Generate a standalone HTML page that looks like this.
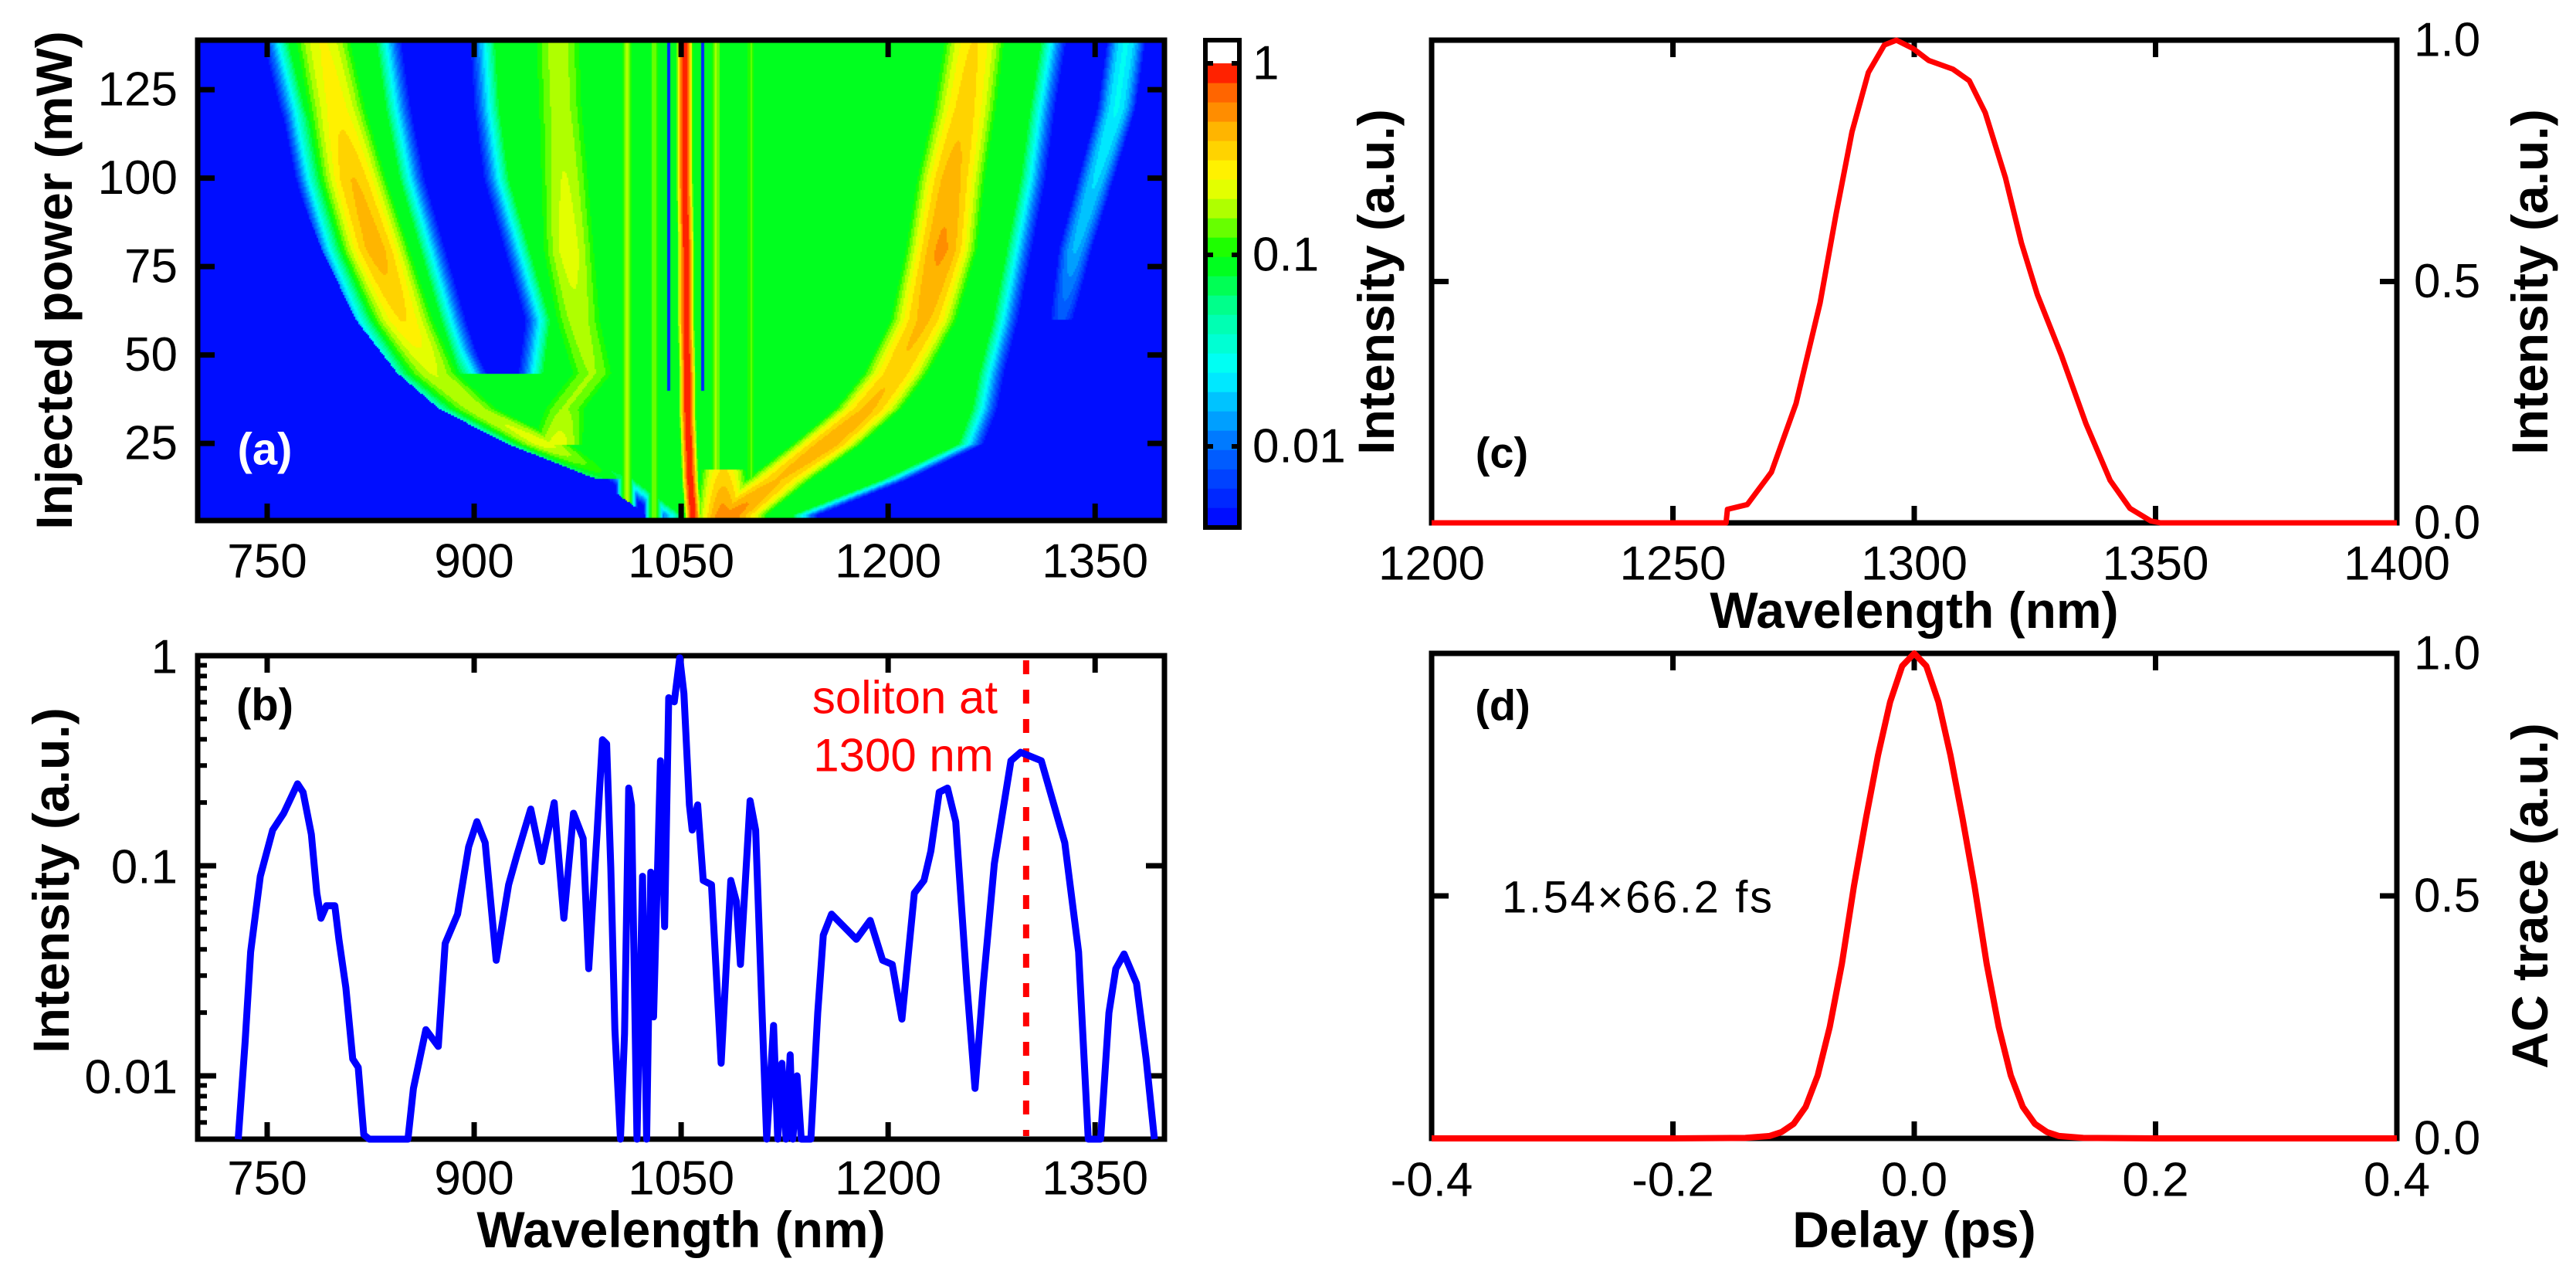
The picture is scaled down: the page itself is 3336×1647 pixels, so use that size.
<!DOCTYPE html>
<html><head><meta charset="utf-8"><style>
html,body{margin:0;padding:0;background:#fff;}
#wrap{position:relative;width:3336px;height:1647px;overflow:hidden;background:#fff;}
#heat{position:absolute;left:256px;top:52px;}
svg{position:absolute;left:0;top:0;}
text{font-family:"Liberation Sans",Arial,sans-serif;}
</style></head><body>
<div id="wrap">
<canvas id="heat" width="1252" height="622"></canvas>
<svg id="fig" width="3336" height="1647" xmlns="http://www.w3.org/2000/svg"></svg>
</div>
<script>
// ===== Panel (a) heatmap feature data (power knots, mW) =====
const aPowers = [139,120,100,80,60,45,35,25,15,5];
const aLeftEdge = [745,757,775,795,820,850,880,930,995,1030];
const aRightEdge = [1330,1322,1315,1305,1295,1285,1280,1270,1215,1150];
const aHoleLeft = [848,855,865,880,895,908,null,null,null,null];
const aHoleRight = [895,898,905,920,935,930,null,null,null,null];
const ridgeLeftDW = [790,800,812,828,848,870,900,950,1000,null];
const ridgeLeftDWPeak = [-0.6,-0.55,-0.4,-0.35,-0.5,-0.7,-0.75,-0.65,-1.1,null];
const ridgeMid = [960,962,965,968,975,985,965,960,null,null];
const ridgeMidPeak = [-0.75,-0.75,-0.7,-0.65,-0.75,-0.8,-0.8,-0.65,null,null];
const ridgePump = [1052,1052,1052,1053,1053,1054,1054,1055,1056,1058];
const ridgeRightDW = [1262,1255,1245,1238,1225,1205,1185,1155,1120,1085];
const ridgeRightDWPeak = [-0.5,-0.45,-0.35,-0.28,-0.38,-0.42,-0.38,-0.32,-0.4,-0.25];
const ridgeFarRight = [1372,1365,1350,1335,1325,null,null,null,null,null];
const ridgeFarRightPeak = [-1.6,-1.6,-1.7,-1.8,-2.1,null,null,null,null,null];
const stripeCenters = [1010,1030,1075,1100];
const stripePeaks = [-0.75,-0.85,-0.8,-0.9];
const dipCenters = [1040,1065];
// colorbar
const cbLevels = 24;
const cbStops = [[-2.42,[0,0,255]],[-2.0,[0,110,255]],[-1.6,[0,255,255]],[-1.3,[0,255,160]],[-1.0,[0,255,0]],[-0.75,[180,255,0]],[-0.6,[255,255,0]],[-0.35,[255,180,0]],[-0.15,[255,100,0]],[0,[255,0,0]]];
const cbTickVals = [1,0.1,0.01];
const cbTickLabels = ["1","0.1","0.01"];

// ===== Panel (b) spectrum (nm, log10 intensity) =====
const bLambda = [729,734,738,745,754,762,772,776,782,786,789,793,799,802,807,812,816,820,824,852,856,865,874,879,888,896,902,908,916,925,931,941,949,958,965,972,979,983,989,993,996,999,1002,1006,1009,1012,1014,1018,1022,1025,1028,1030,1035,1038,1041,1045,1049,1052,1056,1058,1062,1066,1072,1079,1086,1090,1093,1100,1104,1109,1112,1117,1120,1123,1126,1129,1131,1134,1137,1140,1144,1149,1153,1159,1177,1187,1196,1203,1210,1219,1226,1231,1237,1243,1249,1257,1263,1269,1277,1289,1296,1311,1328,1338,1345,1354,1360,1365,1371,1380,1387,1393];
const bLogI = [-2.35,-1.84,-1.41,-1.05,-0.83,-0.75,-0.61,-0.65,-0.85,-1.13,-1.25,-1.19,-1.19,-1.35,-1.58,-1.92,-1.96,-2.28,-2.35,-2.35,-2.06,-1.78,-1.86,-1.37,-1.23,-0.91,-0.79,-0.89,-1.45,-1.09,-0.95,-0.73,-0.98,-0.70,-1.25,-0.75,-0.87,-1.49,-0.85,-0.40,-0.42,-1.01,-1.78,-2.35,-1.80,-0.63,-0.71,-2.35,-1.05,-2.35,-1.03,-1.72,-0.50,-1.29,-0.20,-0.22,-0.01,-0.18,-0.71,-0.83,-0.71,-1.07,-1.09,-1.94,-1.07,-1.17,-1.47,-0.69,-0.83,-1.76,-2.35,-1.76,-2.35,-1.94,-2.35,-1.90,-2.35,-2.0,-2.35,-2.35,-2.35,-1.70,-1.33,-1.23,-1.35,-1.26,-1.45,-1.47,-1.73,-1.13,-1.07,-0.93,-0.65,-0.63,-0.79,-1.56,-2.06,-1.56,-0.99,-0.50,-0.46,-0.50,-0.89,-1.41,-2.35,-2.35,-1.70,-1.49,-1.42,-1.56,-1.92,-2.35];
const bYTickVals = [1,0.1,0.01];
const bYTickLabels = ["1","0.1","0.01"];
const xTicksNm = [750,900,1050,1200,1350];
const xTickLabelsNm = ["750","900","1050","1200","1350"];

// ===== Panel (c) soliton spectrum =====
const cLambda = [1200,1261,1261.3,1265.4,1270.4,1275.5,1280.5,1283.8,1287.1,1290.5,1293.8,1296.3,1299.7,1303,1308,1311.4,1314.7,1318.9,1322.2,1325.5,1330.5,1335.6,1340.6,1344.7,1349,1351,1400];
const cInt = [0,0,0.028,0.038,0.105,0.247,0.456,0.64,0.81,0.933,0.99,1.0,0.983,0.958,0.94,0.916,0.85,0.715,0.58,0.473,0.347,0.205,0.088,0.03,0.004,0,0];
const cXTicks = [1200,1250,1300,1350,1400];
const cXTickLabels = ["1200","1250","1300","1350","1400"];
const yLinTicks = [0,0.5,1.0];
const yLinTickLabels = ["0.0","0.5","1.0"];

// ===== Panel (d) autocorrelation =====
const dDelay = [-0.4,-0.2,-0.14,-0.12,-0.11,-0.1,-0.09,-0.08,-0.07,-0.06,-0.05,-0.04,-0.03,-0.02,-0.01,0,0.01,0.02,0.03,0.04,0.05,0.06,0.07,0.08,0.09,0.1,0.11,0.12,0.14,0.2,0.4];
const dAC = [0,0,0.001,0.005,0.013,0.03,0.065,0.13,0.23,0.36,0.52,0.66,0.79,0.9,0.974,1,0.974,0.9,0.79,0.66,0.52,0.36,0.23,0.13,0.065,0.03,0.013,0.005,0.001,0,0];
const dXTicks = [-0.4,-0.2,0,0.2,0.4];
const dXTickLabels = ["-0.4","-0.2","0.0","0.2","0.4"];

// ===== axis functions =====
const A = {l:256,r:1508,t:52,b:674};
const xA = l => 346 + (l-750)*1.787;
const yA = p => 674 - (p-3.2)*4.58;
const B = {l:256,r:1508,t:849,b:1475};
const yB = lg => Math.min(1475, 849 + (-lg)*272);
const C = {l:1854,r:3104,t:52,b:677};
const xC = l => 1854 + (l-1200)*6.25;
const yC = v => 677 - v*625;
const D = {l:1854,r:3104,t:846,b:1474};
const xD = t => 1854 + (t+0.4)*1562.5;
const yD = v => 1474 - v*628;
const CB = {l:1561,r:1605,t:52,b:683};
const yCB = lg => 82 + (-lg)*248;

// ===== heatmap =====
function interp(arr,P){
  for(let i=0;i<aPowers.length-1;i++){
    const p0=aPowers[i],p1=aPowers[i+1];
    if(P<=p0 && P>=p1){
      const a=arr[i],b=arr[i+1];
      if(a===null||b===null) return null;
      const f=(p0-P)/(p0-p1);
      return a+(b-a)*f;
    }
  }
  return P>aPowers[0]?arr[0]:arr[arr.length-1];
}
function colorFor(lg){
  const lo=-2.42;
  let t=Math.max(0,Math.min(0.9999,(lg-lo)/(-lo)));
  t=Math.floor(t*cbLevels)/cbLevels+0.5/cbLevels;
  const v=lo+t*(-lo);
  for(let i=0;i<cbStops.length-1;i++){
    const [a,ca]=cbStops[i],[b,cb]=cbStops[i+1];
    if(v>=a&&v<=b){const f=(v-a)/(b-a);return ca.map((c,k)=>Math.round(c+(cb[k]-c)*f));}
  }
  return cbStops[cbStops.length-1][1];
}
function ridge(c,pk,w,l){ if(c===null||pk===null) return -9; const d=(l-c)/w; return pk-d*d; }
function heatVal(l,P){
  let lg=-2.42;
  const L=interp(aLeftEdge,P),R=interp(aRightEdge,P);
  let inside=Math.min(l-L,R-l);
  const hl=interp(aHoleLeft,P),hr=interp(aHoleRight,P);
  if(hl!==null&&hr!==null){ inside=Math.min(inside,Math.max(hl-l,l-hr)); }
  if(inside>0){ lg=Math.max(lg,-1.05-Math.max(0,(20-inside)/20)*1.4); }
  if(inside>-6){
    lg=Math.max(lg,ridge(interp(ridgeLeftDW,P),interp(ridgeLeftDWPeak,P),30,l));
    lg=Math.max(lg,ridge(interp(ridgeMid,P),interp(ridgeMidPeak,P),30,l));
    lg=Math.max(lg,ridge(interp(ridgeRightDW,P),interp(ridgeRightDWPeak,P),30,l));
    for(let i=0;i<stripeCenters.length;i++) lg=Math.max(lg,ridge(stripeCenters[i],stripePeaks[i],6,l));
    for(let i=0;i<dipCenters.length;i++){ if(P>40&&Math.abs(l-dipCenters[i])<1.2) lg=Math.min(lg,-2.3); }
  }
  lg=Math.max(lg,ridge(interp(ridgePump,P),0,6,l));
  if(P<18) lg=Math.max(lg,ridge(1080,-0.2-(P-3)*0.02,22,l));
  lg=Math.max(lg,ridge(interp(ridgeFarRight,P),interp(ridgeFarRightPeak,P),16,l));
  return lg;
}
(function(){
  const cv=document.getElementById('heat');const ctx=cv.getContext('2d');
  const W=cv.width,H=cv.height,step=2;
  for(let py=0;py<H;py+=step){
    const P=3.2+(H-py)/4.58;
    for(let px=0;px<W;px+=step){
      const l=750+(px+256-346)/1.787;
      const c=colorFor(heatVal(l,P));
      ctx.fillStyle='rgb('+c[0]+','+c[1]+','+c[2]+')';
      ctx.fillRect(px,py,step,step);
    }
  }
})();

// ===== SVG helpers =====
const NS='http://www.w3.org/2000/svg';
const svg=document.getElementById('fig');
function mk(tag,attrs,parent){const e=document.createElementNS(NS,tag);for(const k in attrs)e.setAttribute(k,attrs[k]);(parent||svg).appendChild(e);return e;}
function txt(s,x,y,size,opts){opts=opts||{};const e=mk('text',{x:x,y:y,'font-size':size,'text-anchor':opts.anchor||'middle','dominant-baseline':'central',fill:opts.fill||'#000','font-weight':opts.bold?'bold':'normal'});if(opts.rot)e.setAttribute('transform','rotate(-90 '+x+' '+y+')');e.textContent=s;return e;}
function frame(F){const e=mk('rect',{x:F.l,y:F.t,width:F.r-F.l,height:F.b-F.t,fill:'none',stroke:'#000','stroke-width':7});return e;}
function tick(x1,y1,x2,y2,w){return mk('line',{x1:x1,y1:y1,x2:x2,y2:y2,stroke:'#000','stroke-width':w||7});}
function pathFrom(xs,ys,fx,fy){let d='';for(let i=0;i<xs.length;i++)d+=(i?'L':'M')+fx(xs[i]).toFixed(1)+','+fy(ys[i]).toFixed(1);return d;}

// ----- Panel a -----
let f=frame(A);


xTicksNm.forEach((v,i)=>{
  let t=tick(xA(v),A.b,xA(v),A.b-22);
  t=tick(xA(v),A.t,xA(v),A.t+22);
  const e=txt(xTickLabelsNm[i],xA(v),727,62);
});
const aYTicks=[25,50,75,100,125];
aYTicks.forEach(v=>{
  let t=tick(A.l,yA(v),A.l+22,yA(v));
  t=tick(A.r,yA(v),A.r-22,yA(v));
  const e=txt(String(v),230,yA(v),62,{anchor:'end'});
});
let e=txt('Injected power (mW)',70,363,66,{bold:true,rot:true});

e=txt('(a)',343,582,58,{bold:true,fill:'#fff'});


// colorbar
for(let i=0;i<cbLevels;i++){
  const lo=-2.42,hi=0;
  const a=lo+(hi-lo)*i/cbLevels,b=lo+(hi-lo)*(i+1)/cbLevels;
  const c=colorFor((a+b)/2);
  const r=mk('rect',{x:CB.l,y:yCB(b),width:CB.r-CB.l,height:yCB(a)-yCB(b)+0.6,fill:'rgb('+c+')'});
  
}
f=frame(CB);f.setAttribute('stroke-width',6);


cbTickVals.forEach((v,i)=>{
  const y=yCB(Math.log10(v));
  let t=tick(CB.l,y,CB.l+10,y,6);
  t=tick(CB.r,y,CB.r-10,y,6);
  const e=txt(cbTickLabels[i],1622,y,62,{anchor:'start'});
});

// ----- Panel b -----
f=frame(B);


xTicksNm.forEach((v,i)=>{
  let t=tick(xA(v),B.b,xA(v),B.b-22);
  t=tick(xA(v),B.t,xA(v),B.t+22);
  const e=txt(xTickLabelsNm[i],xA(v),1526,62);
});
bYTickVals.forEach((v,i)=>{
  const y=yB(Math.log10(v));
  let t=tick(B.l,y,B.l+24,y);
  t=tick(B.r,y,B.r-24,y);
  const e=txt(bYTickLabels[i],230,y+2,62,{anchor:'end'});
});
[0.01,0.1].forEach(dec=>{for(let m=2;m<=9;m++){const v=dec*m;const y=yB(Math.log10(v));
  const t=tick(B.l,y,B.l+12,y,6);}});
[6,7,8,9].forEach(m=>{const y=yB(Math.log10(0.001*m));if(y<B.b){const t=tick(B.l,y,B.l+12,y,6);}});
e=mk('line',{x1:xA(1300),y1:B.t+6,x2:xA(1300),y2:B.b-4,stroke:'#ff0000','stroke-width':8,'stroke-dasharray':'18,20'});

e=mk('path',{d:pathFrom(bLambda,bLogI,xA,yB),fill:'none',stroke:'#0000ff','stroke-width':9,'stroke-linejoin':'round'});

e=txt('soliton at',1172,903,60,{fill:'#ff0000'});

e=txt('1300 nm',1170,978,60,{fill:'#ff0000'});

e=txt('(b)',343,913,58,{bold:true});

e=txt('Intensity (a.u.)',66,1140,66,{bold:true,rot:true});

e=txt('Wavelength (nm)',882,1592,66,{bold:true});


// ----- Panel c -----
f=frame(C);


cXTicks.forEach((v,i)=>{
  if(i>0&&i<cXTicks.length-1){
    let t=tick(xC(v),C.b,xC(v),C.b-22);
    t=tick(xC(v),C.t,xC(v),C.t+22);
  }
  const e=txt(cXTickLabels[i],xC(v),730,62);
});
yLinTicks.forEach((v,i)=>{
  if(v===0.5){
    let t=tick(C.l,yC(v),C.l+22,yC(v));
    t=tick(C.r,yC(v),C.r-22,yC(v));
  }
  const e=txt(yLinTickLabels[i],3126,yC(v),62,{anchor:'start'});
});
e=mk('path',{d:pathFrom(cLambda,cInt,xC,yC),fill:'none',stroke:'#ff0000','stroke-width':7,'stroke-linejoin':'round'});

e=txt('(c)',1945,586,56,{bold:true});

e=txt('Intensity (a.u.)',1782,365,66,{bold:true,rot:true});

e=txt('Intensity (a.u.)',3276,365,66,{bold:true,rot:true});

e=txt('Wavelength (nm)',2479,790,66,{bold:true});


// ----- Panel d -----
f=frame(D);


dXTicks.forEach((v,i)=>{
  if(i>0&&i<dXTicks.length-1){
    let t=tick(xD(v),D.b,xD(v),D.b-22);
    t=tick(xD(v),D.t,xD(v),D.t+22);
  }
  const e=txt(dXTickLabels[i],xD(v),1528,62);
});
yLinTicks.forEach((v,i)=>{
  if(v===0.5){
    let t=tick(D.l,yD(v),D.l+22,yD(v));
    t=tick(D.r,yD(v),D.r-22,yD(v));
  }
  const e=txt(yLinTickLabels[i],3126,yD(v),62,{anchor:'start'});
});
e=mk('path',{d:pathFrom(dDelay,dAC,xD,yD),fill:'none',stroke:'#ff0000','stroke-width':8,'stroke-linejoin':'round'});

e=txt('(d)',1946,913,56,{bold:true});

e=txt('1.54×66.2 fs',2120,1162,58);
e.setAttribute('textLength','350');

e=txt('AC trace (a.u.)',3276,1160,66,{bold:true,rot:true});

e=txt('Delay (ps)',2479,1592,66,{bold:true});

</script>
</body></html>
